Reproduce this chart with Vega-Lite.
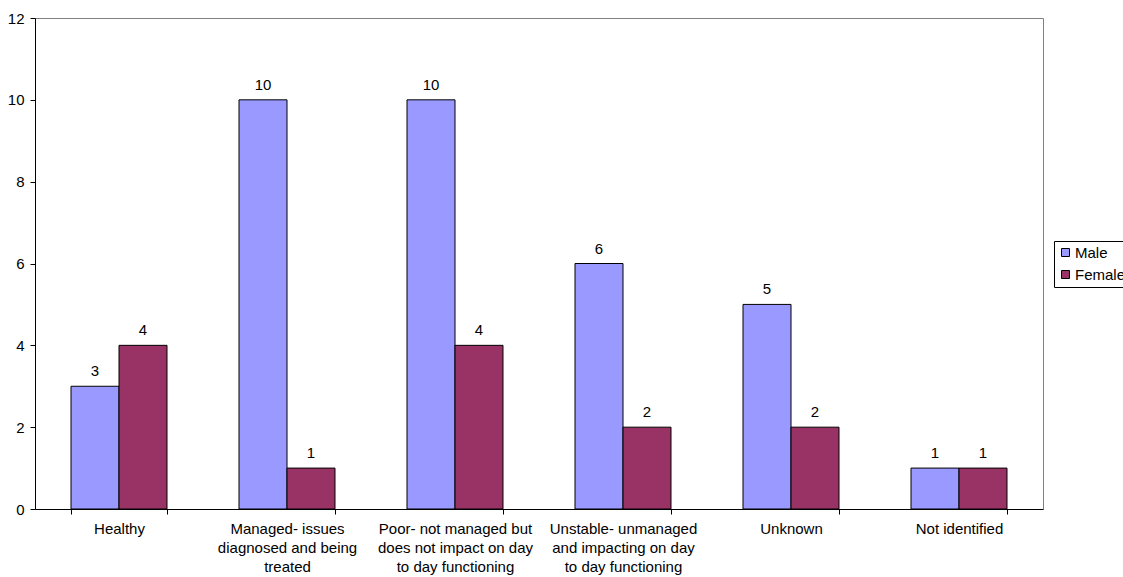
{
  "$schema": "https://vega.github.io/schema/vega-lite/v6.json",
  "autosize": "none",
  "width": 1008,
  "height": 491,
  "padding": {"left": 35, "top": 18, "right": 80, "bottom": 68},
  "background": "white",
  "config": {
    "font": "Liberation Sans",
    "view": {"stroke": "#808080", "strokeWidth": 1}
  },
  "data": {
    "values": [
      {"category": "Healthy", "gender": "Male", "count": 3},
      {"category": "Healthy", "gender": "Female", "count": 4},
      {"category": "Managed- issues|diagnosed and being|treated", "gender": "Male", "count": 10},
      {"category": "Managed- issues|diagnosed and being|treated", "gender": "Female", "count": 1},
      {"category": "Poor- not managed but|does not impact on day|to day functioning", "gender": "Male", "count": 10},
      {"category": "Poor- not managed but|does not impact on day|to day functioning", "gender": "Female", "count": 4},
      {"category": "Unstable- unmanaged|and impacting on day|to day functioning", "gender": "Male", "count": 6},
      {"category": "Unstable- unmanaged|and impacting on day|to day functioning", "gender": "Female", "count": 2},
      {"category": "Unknown", "gender": "Male", "count": 5},
      {"category": "Unknown", "gender": "Female", "count": 2},
      {"category": "Not identified", "gender": "Male", "count": 1},
      {"category": "Not identified", "gender": "Female", "count": 1}
    ]
  },
  "encoding": {
    "x": {
      "field": "category",
      "type": "nominal",
      "sort": null,
      "scale": {"paddingInner": 0.4286, "paddingOuter": 0.2143},
      "axis": {
        "title": null,
        "labelAngle": 0,
        "labelExpr": "split(datum.label, '|')",
        "labelFontSize": 15,
        "labelColor": "black",
        "labelLineHeight": 19,
        "labelPadding": 7,
        "tickBand": "extent",
        "tickSize": 5,
        "tickColor": "black",
        "domainColor": "black",
        "labelLimit": 200
      }
    },
    "xOffset": {"field": "gender", "type": "nominal", "sort": ["Male", "Female"]},
    "y": {
      "field": "count",
      "type": "quantitative",
      "scale": {"domain": [0, 12]},
      "axis": {
        "title": null,
        "values": [0, 2, 4, 6, 8, 10, 12],
        "grid": false,
        "labelFontSize": 15,
        "labelColor": "black",
        "labelPadding": 6,
        "tickSize": 5,
        "tickColor": "black",
        "domainColor": "black"
      }
    }
  },
  "layer": [
    {
      "mark": {"type": "bar", "stroke": "black", "strokeWidth": 1},
      "encoding": {
        "color": {
          "field": "gender",
          "type": "nominal",
          "sort": ["Male", "Female"],
          "scale": {"domain": ["Male", "Female"], "range": ["#9999FF", "#993366"]},
          "legend": {
            "title": null,
            "orient": "none",
            "legendX": 1019,
            "legendY": 223,
            "strokeColor": "black",
            "padding": 4,
            "symbolType": "square",
            "symbolSize": 64,
            "symbolStrokeColor": "black",
            "symbolStrokeWidth": 1,
            "labelFontSize": 15,
            "labelColor": "black",
            "rowPadding": 6,
            "labelOffset": 2
          }
        }
      }
    },
    {
      "mark": {"type": "text", "baseline": "alphabetic", "dy": -10, "fontSize": 15, "color": "black"},
      "encoding": {"text": {"field": "count", "type": "quantitative"}}
    }
  ]
}
